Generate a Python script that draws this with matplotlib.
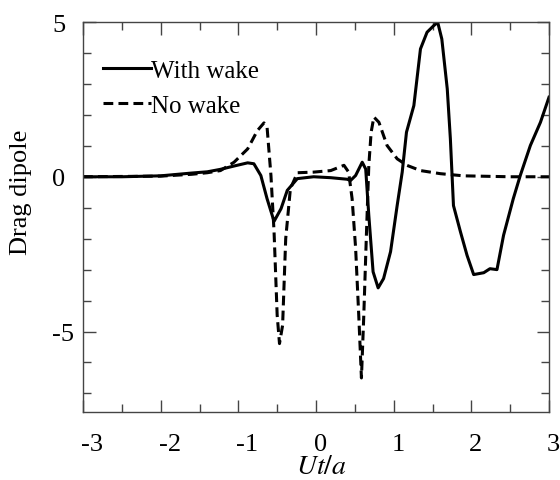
import matplotlib
matplotlib.use("Agg")
import matplotlib.pyplot as plt
import matplotlib.transforms as mtransforms
from matplotlib.ticker import MultipleLocator

plt.rcParams['font.family'] = ['Liberation Serif', 'DejaVu Serif']
plt.rcParams['mathtext.fontset'] = 'stix'
plt.rcParams['axes.unicode_minus'] = False

# With wake
x_wake = [-3, -2.5, -2.0, -1.6, -1.4, -1.23, -1.05, -0.88, -0.80, -0.71, -0.63, -0.54,
          -0.45, -0.37, -0.24, -0.03, 0.19, 0.40, 0.445, 0.51, 0.595, 0.64, 0.68, 0.735,
          0.80, 0.87, 0.96, 1.045, 1.11, 1.165, 1.26, 1.345, 1.43, 1.515, 1.567, 1.62,
          1.69, 1.73, 1.77, 1.86, 1.945, 2.03, 2.16, 2.24, 2.33, 2.415, 2.54, 2.63,
          2.76, 2.89, 3.0]
y_wake = [0, 0, 0.03, 0.12, 0.16, 0.24, 0.35, 0.45, 0.42, 0.04, -0.71, -1.44,
          -1.03, -0.44, -0.06, 0, -0.03, -0.08, -0.12, 0.04, 0.47, 0.25, -1.25, -3.07,
          -3.59, -3.29, -2.42, -0.93, 0.15, 1.44, 2.30, 4.13, 4.67, 4.88, 4.99, 4.45,
          2.84, 1.23, -0.93, -1.78, -2.54, -3.16, -3.1, -2.97, -3.0, -1.89, -0.71, 0.04,
          1.01, 1.76, 2.57]

# No wake
x_nowake = [-3, -2.0, -1.6, -1.4, -1.23, -1.055, -0.88, -0.755, -0.67, -0.63, -0.58,
            -0.54, -0.50, -0.47, -0.43, -0.39, -0.33, -0.24, -0.03, 0.19, 0.36, 0.42,
            0.465, 0.51, 0.55, 0.585, 0.615, 0.65, 0.68, 0.71, 0.745, 0.81, 0.915,
            1.045, 1.17, 1.345, 1.6, 1.9, 2.5, 3.0]
y_nowake = [0, 0.02, 0.08, 0.13, 0.2, 0.47, 0.90, 1.49, 1.74, 1.6, 0.04,
            -1.78, -4.47, -5.39, -4.8, -2.0, -0.39, 0.13, 0.15, 0.2, 0.37, 0.15,
            -0.71, -2.3, -4.45, -6.5, -4.5, -1.8, 0.37, 1.44, 1.93, 1.76, 1.01,
            0.58, 0.37, 0.2, 0.1, 0.03, 0, 0]

x_ticks = [-3, -2, -1, 0, 1, 2, 3]
x_tick_labels = ['-3', '-2', '-1', '0', '1', '2', '3']
y_ticks = [-5, 0, 5]

fig = plt.figure(figsize=(5.6, 4.81), dpi=100)
ax = fig.add_axes([83/560, 1-413/481, (549-83)/560, (413-23)/481])

ax.plot(x_wake, y_wake, color='black', lw=2.2, label='With wake')
ax.plot(x_nowake, y_nowake, color='black', lw=2.2, ls=(0, (3.2, 1.7)), label='No wake')

ax.set_xlim(-3, 3)
ax.set_ylim(-7.6, 5)
ax.set_xticks(x_ticks)
ax.set_yticks(y_ticks)
ax.xaxis.set_minor_locator(MultipleLocator(0.5))
ax.yaxis.set_minor_locator(MultipleLocator(1))
ax.tick_params(which='both', direction='in', top=True, right=True, labelsize=19,
               color='#444444', width=1.0, labelbottom=False)
ax.tick_params(which='major', length=9)
ax.tick_params(axis='y', which='major', pad=22)
ax.tick_params(which='minor', length=6)
for lbl in ax.get_yticklabels():
    lbl.set_horizontalalignment('left')
for s in ax.spines.values():
    s.set_color('#444444')
    s.set_linewidth(1.0)

# x tick labels: left-aligned at each tick, as in the reference
off = mtransforms.ScaledTranslation(-2/100, -38/100, fig.dpi_scale_trans)
trans = ax.get_xaxis_transform() + off
for v, t in zip(x_ticks, x_tick_labels):
    ax.text(v, 0, t, transform=trans, ha='left', va='baseline', fontsize=19,
            clip_on=False)

ax.set_xlabel('$Ut/a$', fontsize=20)
ax.xaxis.set_label_coords(0.511, -0.108)
ax.set_ylabel('Drag dipole', fontsize=19)
ax.yaxis.set_label_coords(-0.109, 0.565)

ax.legend(loc='upper left', bbox_to_anchor=(0.043, 0.905), frameon=False,
          fontsize=18, handlelength=1.9, handletextpad=0.0, labelspacing=0.5,
          borderpad=0, borderaxespad=0)

fig.savefig('out.png', dpi=100)
